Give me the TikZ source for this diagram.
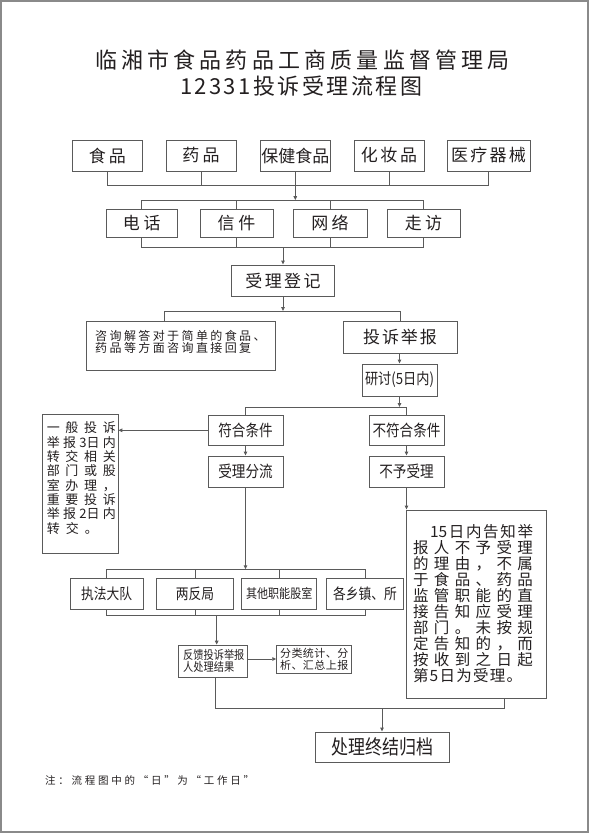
\documentclass[tikz,border=0pt]{standalone}
\usepackage{fontspec}
\setmainfont{Liberation Sans}
\newfontfamily\cjk{Noto Sans CJK SC}
\newfontfamily\cjkn[FakeStretch=0.85]{Noto Sans CJK SC}
\usetikzlibrary{arrows.meta}
\definecolor{linec}{HTML}{5A5A5A}
\definecolor{txt}{HTML}{231F20}
\definecolor{frame}{HTML}{8A8A8A}
\newcommand\LS[2]{{\addfontfeatures{LetterSpace=#1}#2}}
\newcommand\JR[2]{\makebox[#1][s]{#2}}
\begin{document}
\begin{tikzpicture}[x=1pt,y=-1pt,
  every node/.append style={text=txt, execute at begin node={\lineskiplimit=-8pt}},
  box/.style={draw=linec, line width=0.9pt, inner sep=0pt},
  ln/.style={draw=linec, line width=0.9pt},
  arr/.style={ln, -{Triangle[length=4pt,width=3.6pt]}}]
\useasboundingbox (0,0) rectangle (589,833);
\draw[frame, line width=1.6pt] (0.8,0.8) rectangle (588.2,832.2);

% title
\node[font=\cjk\fontsize{22}{24}\selectfont, inner sep=0] (t1) at (302.5,60) {\JR{415pt}{临\hfill 湘\hfill 市\hfill 食\hfill 品\hfill 药\hfill 品\hfill 工\hfill 商\hfill 质\hfill 量\hfill 监\hfill 督\hfill 管\hfill 理\hfill 局}};
\node[font=\cjk\fontsize{22}{24}\selectfont, inner sep=0] (t2) at (301,86) {\JR{242pt}{1\hfill 2\hfill 3\hfill 3\hfill 1\hfill 投\hfill 诉\hfill 受\hfill 理\hfill 流\hfill 程\hfill 图}};

% row 1
\node[box, minimum width=69.3pt, minimum height=31pt, font=\cjk\fontsize{17}{20}\selectfont] (food) at (107.3,155.5) {\LS{18}{食品}};
\node[box, minimum width=70pt, minimum height=31pt, font=\cjk\fontsize{17}{20}\selectfont] (drug) at (201,155.5) {\LS{18}{药品}};
\node[box, minimum width=70.7pt, minimum height=31pt, font=\cjk\fontsize{17}{20}\selectfont] (health) at (295.3,155.5) {保健食品};
\node[box, minimum width=70pt, minimum height=31pt, font=\cjk\fontsize{17}{20}\selectfont] (cosm) at (389,155.5) {\LS{16}{化妆品}};
\node[box, minimum width=83pt, minimum height=31pt, font=\cjk\fontsize{17}{20}\selectfont] (med) at (488.5,155.5) {\LS{13}{医疗器械}};

% row 2
\node[box, minimum width=70.3pt, minimum height=28pt, font=\cjk\fontsize{17}{20}\selectfont] (tel) at (141.8,223) {\LS{22}{电话}};
\node[box, minimum width=73pt, minimum height=28pt, font=\cjk\fontsize{17}{20}\selectfont] (letter) at (236.5,223) {\LS{22}{信件}};
\node[box, minimum width=74pt, minimum height=28pt, font=\cjk\fontsize{17}{20}\selectfont] (net) at (330,223) {\LS{18}{网络}};
\node[box, minimum width=73pt, minimum height=28pt, font=\cjk\fontsize{17}{20}\selectfont] (visit) at (423.5,223) {\LS{18}{走访}};

\node[box, minimum width=103.3pt, minimum height=31pt, font=\cjk\fontsize{17}{20}\selectfont] (reg) at (283,280.5) {\LS{14}{受理登记}};

\node[box, minimum width=188.3pt, minimum height=49pt] (consult) at (180.8,345.5) {};
\node[anchor=west, inner sep=0, align=left, font=\cjk\fontsize{12}{12.3}\selectfont] (consulttxt) at (95,342) {\LS{20}{咨询解答对于简单的食品、}\\\LS{20}{药品等方面咨询直接回复}};

\node[box, minimum width=114pt, minimum height=32pt, font=\cjk\fontsize{17}{20}\selectfont] (complaint) at (400,337) {\LS{11}{投诉举报}};
\node[box, minimum width=75pt, minimum height=32pt, font=\cjkn\fontsize{15.5}{18}\selectfont] (discuss) at (399.5,380) {研讨(5日内)};

\node[box, minimum width=75pt, minimum height=29.3pt, font=\cjkn\fontsize{16}{18}\selectfont] (fit) at (245.5,430.3) {符合条件};
\node[box, minimum width=75pt, minimum height=31pt, font=\cjkn\fontsize{16}{18}\selectfont] (accept) at (245.5,471.5) {受理分流};
\node[box, minimum width=75pt, minimum height=29.3pt, font=\cjkn\fontsize{16}{18}\selectfont] (unfit) at (406.5,430.3) {不符合条件};
\node[box, minimum width=75pt, minimum height=31pt, font=\cjkn\fontsize{16}{18}\selectfont] (reject) at (406.5,471.5) {不予受理};

% left note box
\node[box, minimum width=75.3pt, minimum height=139pt] (leftbox) at (80.3,483.5) {};
\node[inner sep=0, align=left, font=\cjk\fontsize{13}{14.3}\selectfont] (lefttxt) at (81.3,478) {%
\JR{69pt}{一\hfill 般\hfill 投\hfill 诉}\\
\JR{69pt}{举\hfill 报\hfill 3日\hfill 内}\\
\JR{69pt}{转\hfill 交\hfill 相\hfill 关}\\
\JR{69pt}{部\hfill 门\hfill 或\hfill 股}\\
\JR{69pt}{室\hfill 办\hfill 理\hfill ，}\\
\JR{69pt}{重\hfill 要\hfill 投\hfill 诉}\\
\JR{69pt}{举\hfill 报\hfill 2日\hfill 内}\\
\makebox[69pt][l]{转\hspace{6pt}交\hspace{6pt}。}};

% right note box
\node[box, minimum width=140.7pt, minimum height=188pt] (rightbox) at (476.3,604) {};
\node[inner sep=0, align=left, font=\cjk\fontsize{15.5}{16}\selectfont] (righttxt) at (473,603.6) {%
\hspace*{17pt}\JR{103pt}{15\hfill 日\hfill 内\hfill 告\hfill 知\hfill 举}\\
\JR{120pt}{报\hfill 人\hfill 不\hfill 予\hfill 受\hfill 理}\\
\JR{120pt}{的\hfill 理\hfill 由\hfill ，\hfill 不\hfill 属}\\
\JR{120pt}{于\hfill 食\hfill 品\hfill 、\hfill 药\hfill 品}\\
\JR{120pt}{监\hfill 管\hfill 职\hfill 能\hfill 的\hfill 直}\\
\JR{120pt}{接\hfill 告\hfill 知\hfill 应\hfill 受\hfill 理}\\
\JR{120pt}{部\hfill 门\hfill 。\hfill 未\hfill 按\hfill 规}\\
\JR{120pt}{定\hfill 告\hfill 知\hfill 的\hfill ，\hfill 而}\\
\JR{120pt}{按\hfill 收\hfill 到\hfill 之\hfill 日\hfill 起}\\
\makebox[120pt][l]{\LS{8}{第5日为受理。}}};

% bottom row
\node[box, minimum width=73.3pt, minimum height=31pt, font=\cjkn\fontsize{15}{18}\selectfont] (law) at (106.7,593.8) {执法大队};
\node[box, minimum width=76.7pt, minimum height=31pt, font=\cjkn\fontsize{15}{18}\selectfont] (two) at (195,593.8) {两反局};
\node[box, minimum width=75pt, minimum height=31pt, font=\cjkn\fontsize{13}{16}\selectfont] (other) at (279.2,593.8) {其他职能股室};
\node[box, minimum width=76.7pt, minimum height=31pt, font=\cjkn\fontsize{15}{18}\selectfont] (town) at (365,593.8) {各乡镇、所};

\node[box, minimum width=69pt, minimum height=32pt] (feedback) at (212.5,661) {};
\node[anchor=west, inner sep=0, align=left, font=\cjkn\fontsize{12}{11.7}\selectfont] (fbtxt) at (183,661) {反馈投诉举报\\人处理结果};
\node[box, minimum width=75pt, minimum height=28pt, align=left, font=\cjk\fontsize{11}{11.7}\selectfont] (stats) at (314.2,659) {\LS{4}{分类统计、分}\\\LS{4}{析、汇总上报}};

\node[box, minimum width=134pt, minimum height=30pt, font=\cjkn\fontsize{20}{22}\selectfont] (final) at (382,747) {处理终结归档};

\node[anchor=west, inner sep=0, font=\cjk\fontsize{10.5}{12}\selectfont] (note) at (45,780) {\LS{26}{注：流程图中的“日”为“工作日”}};

% connectors
\coordinate (b1) at (0,185);
\coordinate (b2) at (0,200);
\coordinate (b3) at (0,247);
\coordinate (b4) at (0,311);
\coordinate (b5) at (0,407);
\coordinate (b6) at (0,569.3);
\coordinate (b7) at (0,615);
\coordinate (c1) at (164,311);
\coordinate (f1) at (216.7,615);
\coordinate (e1) at (215,708);
\coordinate (e2) at (504,708);

\draw[ln] (food.south) |- (b1 -| med.south) -- (med.south);
\draw[ln] (drug.south) -- (drug.south |- b1);
\draw[ln] (cosm.south) -- (cosm.south |- b1);
\draw[arr] (health.south) -- (health.south |- b2);

\draw[ln] (tel.north) |- (b2 -| visit.north) -- (visit.north);
\draw[ln] (letter.north) -- (letter.north |- b2);
\draw[ln] (net.north) -- (net.north |- b2);
\draw[ln] (tel.south) |- (b3 -| visit.south) -- (visit.south);
\draw[ln] (letter.south) -- (letter.south |- b3);
\draw[ln] (net.south) -- (net.south |- b3);
\draw[arr] (reg.north |- b3) -- (reg.north);

\draw[arr] (reg.south) -- (reg.south |- b4);
\draw[ln] (c1 |- consult.north) -- (c1) -| (complaint.north);
\draw[arr] (complaint.south) -- (complaint.south -| discuss.north) -- (discuss.north);
\draw[arr] (discuss.south) -- (discuss.south |- b5);
\draw[ln] (fit.north) |- (b5 -| unfit.north) -- (unfit.north);
\draw[arr] (fit.south) -- (accept.north);
\draw[arr] (unfit.south) -- (reject.north);
\draw[arr] (fit.west) -- (fit.west -| leftbox.east);
\draw[arr] (reject.south) -- (reject.south |- rightbox.north);

\draw[arr] (accept.south) -- (accept.south |- b6);
\draw[ln] (law.north) |- (b6 -| town.north) -- (town.north);
\draw[ln] (two.north) -- (two.north |- b6);
\draw[ln] (other.north) -- (other.north |- b6);
\draw[ln] (law.south) |- (b7 -| town.south) -- (town.south);
\draw[ln] (two.south) -- (two.south |- b7);
\draw[ln] (other.south) -- (other.south |- b7);
\draw[arr] (f1) -- (f1 |- feedback.north);
\draw[arr] (feedback.east |- stats.west) -- (stats.west);
\draw[ln] (feedback.south -| e1) -- (e1) -- (e2) -- (e2 |- rightbox.south);
\draw[arr] (final.north |- e1) -- (final.north);
\end{tikzpicture}
\end{document}
